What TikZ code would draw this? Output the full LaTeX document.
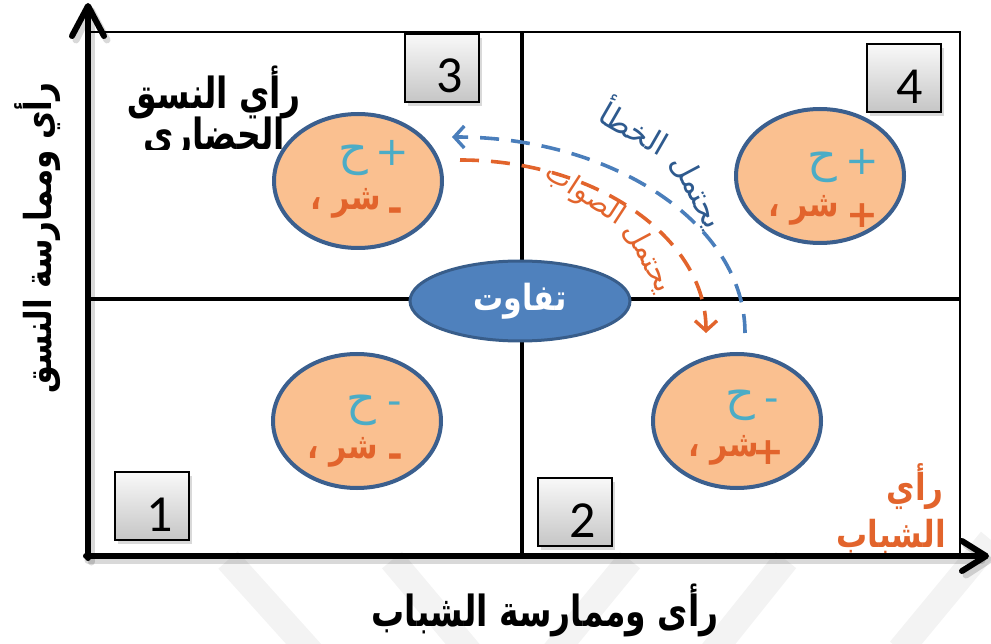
\documentclass[tikz,border=0pt]{standalone}
\usepackage{fontspec}
\setmainfont{Carlito}
\newfontfamily\arab[Script=Arabic]{DejaVu Sans}
\newfontfamily\signfont{DejaVu Sans}
\TeXXeTstate=1
\usetikzlibrary{arrows.meta,shadows,shapes.geometric}

\definecolor{ovalfill}{HTML}{FAC090}
\definecolor{ovalline}{HTML}{3B5F8E}
\definecolor{hcol}{HTML}{4BACC6}
\definecolor{scol}{HTML}{E2642C}
\definecolor{midfill}{HTML}{4F81BD}
\definecolor{midline}{HTML}{385D8A}
\definecolor{errdash}{HTML}{4A7EBB}
\definecolor{errtext}{HTML}{2E5A8E}
\definecolor{okdash}{HTML}{E2642C}
\definecolor{wmark}{HTML}{F3F3F3}

% vertical stretch for the Arabic lettering
\newcommand\tallrtl[2][1.3]{\scalebox{1}[#1]{\beginR #2\endR}}

\tikzset{
  quad/.style={ellipse, draw=ovalline, line width=4pt, fill=ovalfill,
    minimum width=168pt, minimum height=134pt, inner sep=0pt},
  numbox/.style={rectangle, draw=black, line width=1.1pt, top color=gray!5,
    bottom color=gray!45, minimum width=74pt, minimum height=68pt, inner sep=0pt,
    drop shadow={opacity=0.3, shadow xshift=3pt, shadow yshift=-4pt}},
  numtext/.style={font=\fontsize{52}{52}\selectfont, inner sep=0pt},
  hletter/.style={font=\arab\fontsize{46}{46}\selectfont, text=hcol, inner sep=0pt},
  hsign/.style={font=\signfont\fontsize{40}{40}\selectfont, text=hcol, inner sep=0pt},
  sword/.style={font=\arab\bfseries\fontsize{30}{30}\selectfont, text=scol, anchor=east, inner sep=0pt},
  ssign/.style={font=\signfont\bfseries\fontsize{38}{38}\selectfont, text=scol, inner sep=0pt},
  bigtitle/.style={font=\arab\bfseries\fontsize{33}{33}\selectfont, inner sep=0pt},
  axisline/.style={line width=6pt, line cap=round, line join=round},
  axisshadow/.style={line width=7pt, line cap=round, line join=round, black, opacity=0.15},
  arctext/.style={font=\arab\fontsize{31}{31}\selectfont, inner sep=0pt},
  dasharc/.style={line width=3.6pt, dash pattern=on 19pt off 12pt}
}

\begin{document}
\begin{tikzpicture}[x=1pt,y=-1pt]
\useasboundingbox (0,0) rectangle (991,644);

% faint watermark bands
\begin{scope}[line width=26pt, wmark]
  \draw (228,560) -- (318,660);
  \draw (392,560) -- (476,660);
  \draw (548,660) -- (630,560);
  \draw (706,660) -- (786,560);
  \draw (900,650) -- (991,540);
\end{scope}

% quadrant frame
\draw[line width=2pt] (88,32) -- (960,32) -- (960,556);
\draw[line width=4.5pt] (522,32) -- (522,556);
\draw[line width=4.5pt] (88,299) -- (960,299);

% the four ovals
\node[quad] (q3) at (358,181) {};
\node[quad] (q4) at (820,176) {};
\node[quad] (q1) at (357,421) {};
\node[quad] (q2) at (737,421) {};

% oval contents: sign and letter for each line
\node[hsign]   (q3hs) at (392,153) {+};
\node[hletter] (q3h)  at (353,160) {ح};
\node[ssign]   (q3ss) at (395,215) {-};
\node[sword]   (q3s)  at (381,203) {\tallrtl[1.2]{شر ،}};

\node[hsign]   (q4hs) at (862,162) {+};
\node[hletter] (q4h)  at (822,167) {ح};
\node[ssign]   (q4ss) at (862,216) {+};
\node[sword]   (q4s)  at (839,210) {\tallrtl[1.2]{شر ،}};

\node[hsign]   (q1hs) at (395,408) {-};
\node[hletter] (q1h)  at (361,410) {ح};
\node[ssign]   (q1ss) at (395,461) {-};
\node[sword]   (q1s)  at (378,452) {\tallrtl[1.2]{شر ،}};

\node[hsign]   (q2hs) at (772,405) {-};
\node[hletter] (q2h)  at (740,405) {ح};
\node[ssign]   (q2ss) at (768,453) {+};
\node[sword]   (q2s)  at (759,450) {\tallrtl[1.2]{شر ،}};

% central oval
\node[ellipse, draw=midline, line width=3pt, fill=midfill, minimum width=220pt,
      minimum height=80pt, inner sep=0pt, text=white,
      font=\arab\bfseries\fontsize{30}{30}\selectfont] (gap) at (520,301) {\tallrtl[1.2]{تفاوت}};

% numbered boxes
\node[numbox] (b3) at (442,68) {};
\node[numbox] (b4) at (904,78) {};
\node[numbox] (b1) at (152,506) {};
\node[numbox] (b2) at (575,512) {};
\node[numtext] (n3) at (450,76) {3};
\node[numtext] (n4) at (910,87) {4};
\node[numtext] (n1) at (160,515) {1};
\node[numtext] (n2) at (583,521) {2};

% quadrant title (second line cut off near its baseline)
\node[bigtitle] (t1) at (214,92) {\tallrtl{رأي النسق}};
\begin{scope}
  \clip (100,100) rectangle (320,150);
  \node[bigtitle, anchor=base] (t2) at (214,150) {\tallrtl{الحضاري}};
\end{scope}

% axes with soft shadow
\draw[axisshadow] (91,562) -- (91,12);
\draw[axisshadow] (88,560) -- (982,560);
\draw[axisshadow] (966,545) -- (989,560) -- (966,575);
\draw[axisshadow] (76,40) -- (91,10) -- (107,40);
\draw[axisline] (88,558) -- (88,8);
\draw[axisline] (72,36) -- (88,6) -- (104,36);

% axis titles
\node[bigtitle, font=\arab\bfseries\fontsize{31}{31}\selectfont, rotate=90] (yl) at (38,238) {\tallrtl[1.2]{رأي وممارسة النسق}};
\node[bigtitle] (xl) at (545,610) {\tallrtl{رأى وممارسة الشباب}};
\node[bigtitle, font=\arab\bfseries\fontsize{31}{31}\selectfont, text=scol, anchor=east] (r1) at (944,487) {\tallrtl[1.2]{رأي}};
\node[bigtitle, font=\arab\bfseries\fontsize{31}{31}\selectfont, text=scol, anchor=east] (r2) at (946,537) {\tallrtl[1.2]{الشباب}};

\draw[axisline] (86,556) -- (984,556);
\draw[axisline] (962,541) -- (986,556) -- (962,571);

% dashed curved arrows
\coordinate (eS) at (745,333);
\coordinate (eE) at (452,137);
\coordinate (oS) at (460,160);
\coordinate (oE) at (706,333);
\draw[dasharc, errdash, -{Straight Barb[length=10pt,width=22pt,line width=3.4pt]}]
  (eS) .. controls (745,225) and (614,137) .. (eE);
\draw[dasharc, okdash, -{Straight Barb[length=10pt,width=22pt,line width=3.4pt]}]
  (oS) .. controls (596,160) and (706,238) .. (oE);

% labels along the arcs
\node[arctext, text=errtext, rotate=-30] (ew2) at (636,125) {\beginR الخطأ\endR};
\node[arctext, text=errtext, rotate=-62] (ew1) at (697,192) {\beginR يحتمل\endR};
\node[arctext, font=\arab\fontsize{28}{28}\selectfont, text=scol, rotate=-33] (ow2) at (585,195) {\beginR الصواب\endR};
\node[arctext, font=\arab\fontsize{29}{29}\selectfont, text=scol, rotate=-62] (ow1) at (649,258) {\beginR يحتمل\endR};

\end{tikzpicture}
\end{document}
